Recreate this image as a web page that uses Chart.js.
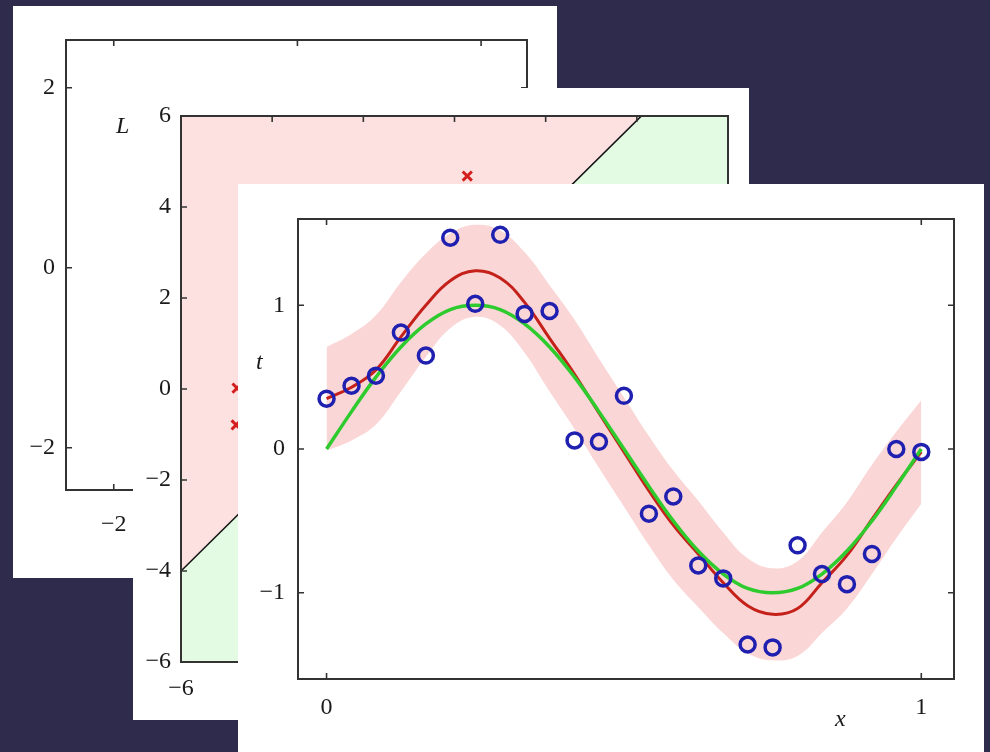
<!DOCTYPE html>
<html>
<head>
<meta charset="utf-8">
<script src="https://cdn.jsdelivr.net/npm/chart.js"></script>
<style>
  body { margin: 0; width: 990px; height: 752px; overflow: hidden; position: relative; background: #2e2b4c; }
  .card { position: absolute; background: #fff; }
  .label { position: absolute; font: italic 24px "Liberation Serif", serif; line-height: 1; color: #1a1a1a; }
</style>
</head>
<body>
<canvas id="back" class="card" width="544" height="572" style="left:13px;top:6px"></canvas>
<canvas id="middle" class="card" width="616" height="632" style="left:133px;top:88px"></canvas>
<canvas id="front" class="card" width="746" height="568" style="left:238px;top:184px"></canvas>
<div class="label" style="left:116px;top:113px">L</div>
<div class="label" style="left:256px;top:349px">t</div>
<div class="label" style="left:835px;top:706px">x</div>
<script>
// back panel: empty axes
const backTicksX = [-2, 0, 2];
const backTicksY = [-2, 0, 2];

// middle panel: two class regions split by a straight boundary
const midTicksX = [-6, -4, -2, 0, 2, 4, 6];
const midTicksY = [-6, -4, -2, 0, 2, 4, 6];
const boundaryX = [-6, 4.1];
const boundaryY = [-4, 6];
const floorX = [-6, 6];
const floorY = [-6, -6];
const crossX = [0.28, -4.77, -4.79];
const crossY = [4.68, 0.02, -0.79];

// front panel: noisy sine samples, true curve, predictive mean and band
const frontTicksX = [0, 1];
const frontTicksY = [-1, 0, 1];
const xs = [0, 0.042, 0.083, 0.125, 0.167, 0.208, 0.25, 0.292, 0.333, 0.375, 0.417, 0.458, 0.5,
            0.542, 0.583, 0.625, 0.667, 0.708, 0.75, 0.792, 0.833, 0.875, 0.917, 0.958, 1];
const targets = [0.35, 0.44, 0.51, 0.81, 0.65, 1.47, 1.01, 1.49, 0.94, 0.96, 0.06, 0.05, 0.37,
                 -0.45, -0.33, -0.81, -0.90, -1.36, -1.38, -0.67, -0.87, -0.94, -0.73, 0.00, -0.02];
const trueCurve = [0, 0.26, 0.5, 0.71, 0.87, 0.97, 1, 0.97, 0.87, 0.71, 0.5, 0.26, 0,
                   -0.26, -0.5, -0.71, -0.87, -0.97, -1, -0.97, -0.87, -0.71, -0.5, -0.26, 0];
const meanCurve = [0.35, 0.43, 0.55, 0.78, 1.0, 1.17, 1.24, 1.19, 1.02, 0.77, 0.52, 0.25, -0.02,
                   -0.29, -0.53, -0.73, -0.93, -1.09, -1.15, -1.11, -0.93, -0.74, -0.49, -0.25, -0.02];
const bandTop = [0.71, 0.80, 0.93, 1.16, 1.36, 1.50, 1.56, 1.52, 1.37, 1.14, 0.90, 0.63, 0.36,
                 0.09, -0.15, -0.36, -0.58, -0.76, -0.83, -0.78, -0.58, -0.37, -0.11, 0.12, 0.34];
const bandBottom = [-0.01, 0.06, 0.17, 0.40, 0.64, 0.84, 0.92, 0.86, 0.67, 0.40, 0.14, -0.13, -0.40,
                    -0.67, -0.91, -1.10, -1.28, -1.42, -1.47, -1.44, -1.28, -1.11, -0.87, -0.62, -0.38];

const points = (xv, yv) => xv.map((x, i) => ({ x, y: yv[i] }));

// box round the plot with small ticks pointing inwards
const frame = {
    id: 'frame',
    afterDatasetsDraw(chart) {
        const { ctx, chartArea: a, scales: { x, y } } = chart;
        ctx.save();
        ctx.strokeStyle = '#333';
        ctx.lineWidth = 2;
        ctx.strokeRect(a.left, a.top, a.right - a.left, a.bottom - a.top);
        ctx.lineWidth = 1.6;
        ctx.beginPath();
        for (const t of x.ticks) {
            const px = x.getPixelForValue(t.value);
            ctx.moveTo(px, a.top); ctx.lineTo(px, a.top + 6);
            ctx.moveTo(px, a.bottom); ctx.lineTo(px, a.bottom - 6);
        }
        for (const t of y.ticks) {
            const py = y.getPixelForValue(t.value);
            ctx.moveTo(a.left, py); ctx.lineTo(a.left + 6, py);
            ctx.moveTo(a.right, py); ctx.lineTo(a.right - 6, py);
        }
        ctx.stroke();
        ctx.restore();
    }
};

const axis = (min, max, marks, size, gap) => ({
    type: 'linear',
    min, max,
    grid: { display: false, drawTicks: false },
    border: { display: false },
    afterBuildTicks: s => { s.ticks = marks.map(v => ({ value: v })); },
    afterFit: s => { if (s.isHorizontal()) s.height = size; else s.width = size; },
    ticks: {
        autoSkip: false,
        padding: gap,
        color: '#1a1a1a',
        font: { family: '"Liberation Serif", serif', size: 24 },
        callback: v => String(v).replace('-', '\u2212')
    }
});

const common = (pad) => ({
    responsive: false,
    animation: false,
    events: [],
    layout: { padding: pad },
    plugins: { legend: { display: false }, tooltip: { enabled: false } }
});

new Chart(document.getElementById('back'), {
    type: 'scatter',
    data: { datasets: [] },
    options: {
        ...common({ top: 34, right: 30, left: 0, bottom: 0 }),
        scales: {
            x: axis(-2.52, 2.5, backTicksX, 88, 20),
            y: axis(-2.47, 2.53, backTicksY, 53, 11)
        }
    },
    plugins: [frame]
});

new Chart(document.getElementById('middle'), {
    type: 'line',
    data: {
        datasets: [
            {
                data: points(floorX, floorY),
                fill: 'end',
                backgroundColor: '#e3fae3',
                borderWidth: 0,
                pointRadius: 0,
                order: 4
            },
            {
                data: points(boundaryX, boundaryY),
                fill: 'end',
                backgroundColor: '#fde1e1',
                borderColor: '#111',
                borderWidth: 1.6,
                pointRadius: 0,
                order: 3
            },
            {
                data: points(crossX, crossY),
                showLine: false,
                pointStyle: 'crossRot',
                pointRadius: 6.5,
                borderColor: '#d41e1e',
                borderWidth: 3,
                order: 1
            }
        ]
    },
    options: {
        ...common({ top: 28, right: 21, left: 0, bottom: 0 }),
        scales: {
            x: axis(-6, 6, midTicksX, 58, 12),
            y: axis(-6, 6, midTicksY, 48, 10)
        }
    },
    plugins: [frame]
});

new Chart(document.getElementById('front'), {
    type: 'line',
    data: {
        datasets: [
            {
                data: points(xs, bandTop),
                fill: '+1',
                backgroundColor: '#fbd6d6',
                borderWidth: 0,
                pointRadius: 0,
                tension: 0.4,
                order: 6
            },
            {
                data: points(xs, bandBottom),
                fill: false,
                borderWidth: 0,
                pointRadius: 0,
                tension: 0.4,
                order: 7
            },
            {
                data: points(xs, meanCurve),
                borderColor: '#c4211a',
                borderWidth: 3,
                pointRadius: 0,
                tension: 0.4,
                order: 3
            },
            {
                data: points(xs, trueCurve),
                borderColor: '#2ecb2e',
                borderWidth: 3.5,
                pointRadius: 0,
                tension: 0.4,
                order: 2
            },
            {
                data: points(xs, targets),
                showLine: false,
                pointStyle: 'circle',
                pointRadius: 7.5,
                borderWidth: 3.5,
                borderColor: '#1f1fb0',
                backgroundColor: 'rgba(0,0,0,0)',
                order: 1
            }
        ]
    },
    options: {
        ...common({ top: 35, right: 30, left: 0, bottom: 0 }),
        scales: {
            x: axis(-0.048, 1.055, frontTicksX, 73, 14),
            y: axis(-1.6, 1.6, frontTicksY, 60, 13)
        }
    },
    plugins: [frame]
});
</script>
</body>
</html>
